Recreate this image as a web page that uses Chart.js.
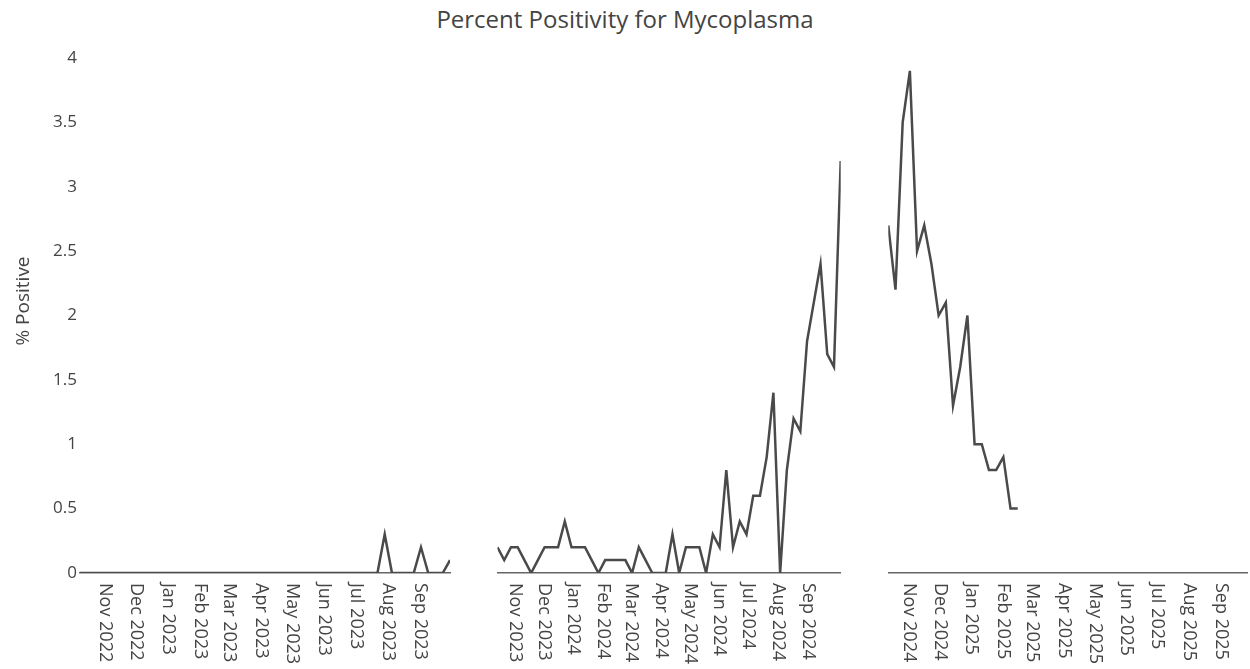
<!DOCTYPE html>
<html>
<head>
<meta charset="utf-8">
<script src="https://cdn.jsdelivr.net/npm/chart.js@4.4.1/dist/chart.umd.min.js"></script>
<style>
  body { margin: 0; background: #fff; }
  #wrap { position: relative; width: 1250px; height: 669px; overflow: hidden; font-family: "Open Sans", sans-serif; }
  #title { position: absolute; left: 0; top: 3px; width: 1250px; text-align: center; font-size: 24px; line-height: 32px; color: #444; }
  canvas { position: absolute; top: 0; }
</style>
</head>
<body>
<div id="wrap">
  <div id="title">Percent Positivity for Mycoplasma</div>
  <canvas id="season1" width="460" height="669" style="left:0px"></canvas>
  <canvas id="season2" width="364" height="669" style="left:487px"></canvas>
  <canvas id="season3" width="372" height="669" style="left:878px"></canvas>
</div>
<script>
// weekly percent positive, one array per season (week ending dates)
const season1Start = "2022-10-08";
const season1Values = [
  0, 0, 0, 0, 0, 0, 0, 0, 0, 0,
  0, 0, 0, 0, 0, 0, 0, 0, 0, 0,
  0, 0, 0, 0, 0, 0, 0, 0, 0, 0,
  0, 0, 0, 0, 0, 0, 0, 0, 0, 0,
  0, 0, 0.3, 0, 0, 0, 0, 0.2, 0, 0,
  0, 0.1
];
const season1Ticks = ["Nov 2022", "Dec 2022", "Jan 2023", "Feb 2023", "Mar 2023", "Apr 2023",
  "May 2023", "Jun 2023", "Jul 2023", "Aug 2023", "Sep 2023"];

const season2Start = "2023-10-14";
const season2Values = [
  0.2, 0.1, 0.2, 0.2, 0.1, 0, 0.1, 0.2, 0.2, 0.2,
  0.4, 0.2, 0.2, 0.2, 0.1, 0, 0.1, 0.1, 0.1, 0.1,
  0, 0.2, 0.1, 0, 0, 0, 0.3, 0, 0.2, 0.2,
  0.2, 0, 0.3, 0.2, 0.8, 0.2, 0.4, 0.3, 0.6, 0.6,
  0.9, 1.4, 0, 0.8, 1.2, 1.1, 1.8, 2.1, 2.4, 1.7,
  1.6, 3.2
];
const season2Ticks = ["Nov 2023", "Dec 2023", "Jan 2024", "Feb 2024", "Mar 2024", "Apr 2024",
  "May 2024", "Jun 2024", "Jul 2024", "Aug 2024", "Sep 2024"];

const season3Start = "2024-10-12";
const season3End = "2025-09-27";
const season3Values = [2.7, 2.2, 3.5, 3.9, 2.5, 2.7, 2.4, 2.0, 2.1, 1.3, 1.6, 2.0, 1.0, 1.0, 0.8, 0.8, 0.9, 0.5, 0.5];
const season3Ticks = ["Nov 2024", "Dec 2024", "Jan 2025", "Feb 2025", "Mar 2025", "Apr 2025",
  "May 2025", "Jun 2025", "Jul 2025", "Aug 2025", "Sep 2025"];

const yTicks = [0, 0.5, 1, 1.5, 2, 2.5, 3, 3.5, 4];

const DAY = 86400000;
const MONTHS = ["Jan", "Feb", "Mar", "Apr", "May", "Jun", "Jul", "Aug", "Sep", "Oct", "Nov", "Dec"];
const toTime = (iso) => Date.parse(iso + "T00:00:00Z");
const monthTime = (label) => {
  const [m, y] = label.split(" ");
  return Date.UTC(+y, MONTHS.indexOf(m), 1);
};
const weekly = (start, n) => Array.from({ length: n }, (_, i) => toTime(start) + i * 7 * DAY);

const FONT = "Open Sans";
const INK = "#444";
const Y_MAX = 4.225;

// draw month labels rotated clockwise under the x axis
const monthLabels = {
  id: "monthLabels",
  afterDraw(chart, args, opts) {
    const { ctx, chartArea, scales } = chart;
    ctx.save();
    ctx.font = `18px "${FONT}"`;
    ctx.fillStyle = INK;
    ctx.textAlign = "left";
    ctx.textBaseline = "middle";
    opts.labels.forEach((lab) => {
      const px = scales.x.getPixelForValue(monthTime(lab));
      ctx.save();
      ctx.translate(px, chartArea.bottom + 10);
      ctx.rotate(Math.PI / 2);
      ctx.fillText(lab, 0, 0);
      ctx.restore();
    });
    ctx.restore();
  },
};

function makeChart(id, start, values, end, ticks, showY, padding) {
  const times = weekly(start, values.length);
  const ctx = document.getElementById(id).getContext("2d");
  const yScale = {
    display: showY,
    min: 0,
    max: Y_MAX,
    afterBuildTicks: (s) => { s.ticks = yTicks.map((v) => ({ value: v })); },
    border: { display: false },
    grid: { display: false, drawTicks: false },
    ticks: {
      padding: 3,
      color: INK,
      font: { family: FONT, size: 17 },
      callback: (v) => String(v),
    },
    title: {
      display: true,
      text: "% Positive",
      color: INK,
      font: { family: FONT, size: 19 },
      padding: { top: 12.6, bottom: 0 },
    },
  };
  // only the first panel carries the y axis, fixed at 80px wide
  if (showY) yScale.afterFit = (s) => { s.width = 80; };

  return new Chart(ctx, {
    type: "line",
    data: {
      datasets: [{
        data: times.map((t, i) => ({ x: t, y: values[i] })),
        borderColor: "#4a4a4a",
        borderWidth: 2.5,
        pointRadius: 0,
        fill: false,
        tension: 0,
      }],
    },
    options: {
      responsive: false,
      animation: false,
      layout: { padding },
      plugins: {
        legend: { display: false },
        tooltip: { enabled: false },
        monthLabels: { labels: ticks },
      },
      scales: {
        x: {
          type: "linear",
          min: times[0],
          max: end ? toTime(end) : times[times.length - 1],
          border: { display: true, color: "#666", width: 1.5 },
          grid: { display: false, drawTicks: false },
          ticks: { display: false },
        },
        y: yScale,
      },
    },
    plugins: [monthLabels],
  });
}

makeChart("season1", season1Start, season1Values, null, season1Ticks, true,
  { left: 0, right: 10, top: 29, bottom: 96 });
makeChart("season2", season2Start, season2Values, null, season2Ticks, false,
  { left: 10.5, right: 10.3, top: 29, bottom: 96 });
makeChart("season3", season3Start, season3Values, season3End, season3Ticks, false,
  { left: 10.3, right: 2.2, top: 29, bottom: 96 });
</script>
</body>
</html>
